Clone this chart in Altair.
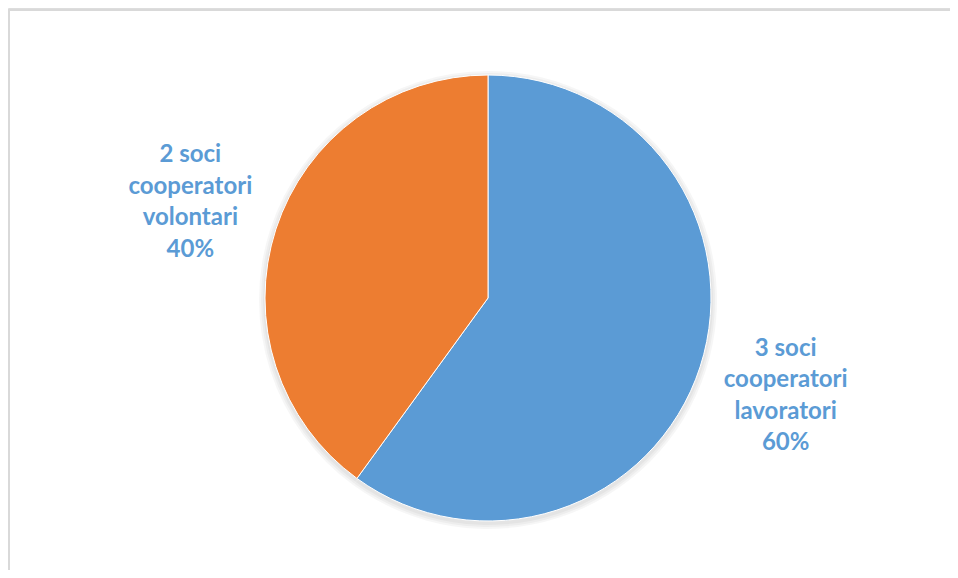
import altair as alt
import pandas as pd

categories = ["3 soci\ncooperatori\nlavoratori", "2 soci\ncooperatori\nvolontari"]
values = [3, 2]
colors = ["#5B9BD5", "#ED7D31"]

df = pd.DataFrame({"name": categories, "value": values, "order": [0, 1]})

W, H = 942, 562
CX, CY = 480, 290
R = 223

base = alt.Chart(df).transform_joinaggregate(total="sum(value)").transform_calculate(
    label="datum.name + '\\n' + format(datum.value / datum.total, '.0%')"
)

theta = alt.Theta("value:Q", stack=True)
color = alt.Color("name:N", scale=alt.Scale(domain=categories, range=colors), legend=None)
order = alt.Order("order:Q")

shadows = [
    base.mark_arc(outerRadius=R + k, color="#000000", opacity=0.035, strokeWidth=0).encode(
        theta=theta, order=order, x=alt.value(CX), y=alt.value(CY + 2)
    )
    for k in (2, 4, 6)
]

pie = base.mark_arc(outerRadius=R, stroke="white", strokeWidth=1).encode(
    theta=theta, color=color, order=order, x=alt.value(CX), y=alt.value(CY)
)

labels = base.mark_text(
    radius=313, dy=-46, font="Lato", fontWeight="bold", fontSize=24, lineBreak="\n",
    lineHeight=31.5, color="#5B9BD5", align="center", baseline="middle"
).encode(
    theta=theta, order=order, text="label:N", x=alt.value(CX), y=alt.value(CY)
)

frame_top = alt.Chart(df).mark_rule(color="#D9D9D9", strokeWidth=2).encode(
    x=alt.value(0), x2=alt.value(W), y=alt.value(2)
)
frame_left = alt.Chart(df).mark_rule(color="#D9D9D9", strokeWidth=2).encode(
    x=alt.value(1), y=alt.value(1), y2=alt.value(H)
)

chart = alt.layer(*shadows, pie, labels, frame_top, frame_left).properties(
    width=W, height=H, padding=0, autosize=alt.AutoSizeParams(type="none")
).configure_view(strokeWidth=0).configure(background="white")

chart.save("out.html", embed_options={"renderer": "svg", "actions": False})
